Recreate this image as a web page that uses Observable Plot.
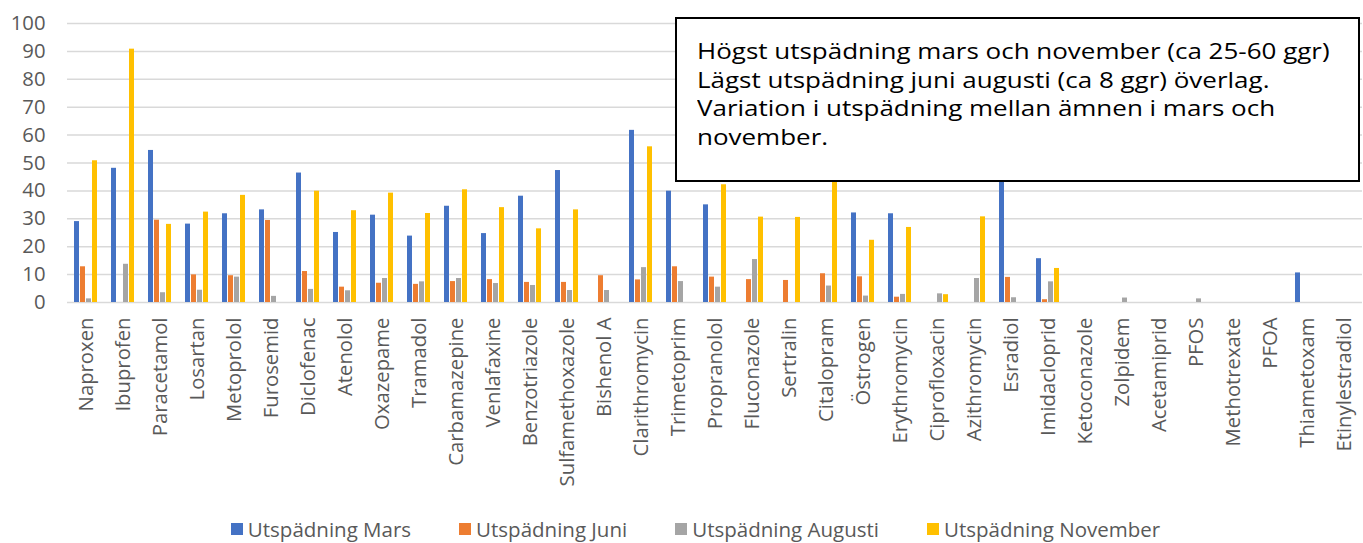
<!DOCTYPE html>
<html>
<head>
<meta charset="utf-8">
<script src="https://cdn.jsdelivr.net/npm/d3@7"></script>
<script src="https://cdn.jsdelivr.net/npm/@observablehq/plot@0.6"></script>
<style>
  body { margin: 0; background: #fff; font-family: "Open Sans", sans-serif; }
  #wrap { position: relative; width: 1363px; height: 543px; overflow: hidden; }
  #note {
    position: absolute; left: 675px; top: 17px; width: 681px; height: 161px;
    border: 2px solid #000; background: #fff; box-sizing: content-box;
    font-family: "Open Sans", sans-serif; font-size: 21px; line-height: 28.7px;
    color: #000; padding: 0;
  }
  #note .inner { position: absolute; left: 20px; top: 18px; white-space: nowrap; transform: scaleX(1.237); transform-origin: 0 0; }
  #legend {
    position: absolute; left: 0; top: 514px; width: 1363px; height: 30px;
    display: flex; justify-content: center; align-items: center; gap: 48px;
    padding-left: 28px; box-sizing: border-box;
    font-family: "Open Sans", sans-serif; font-size: 20.5px; color: #595959;
  }
  #legend .item { display: flex; align-items: center; gap: 5px; }
  #legend .sw { width: 12px; height: 12px; display: inline-block; }
</style>
</head>
<body>
<div id="wrap">
  <div id="chart"></div>
  <div id="note"><div class="inner" id="noteText"></div></div>
  <div id="legend"></div>
</div>
<script>
const categories = ["Naproxen","Ibuprofen","Paracetamol","Losartan","Metoprolol","Furosemid","Diclofenac","Atenolol","Oxazepame","Tramadol","Carbamazepine","Venlafaxine","Benzotriazole","Sulfamethoxazole","Bishenol A","Clarithromycin","Trimetoprim","Propranolol","Fluconazole","Sertralin","Citalopram","Östrogen","Erythromycin","Ciprofloxacin","Azithromycin","Esradiol","Imidacloprid","Ketoconazole","Zolpidem","Acetamiprid","PFOS","Methotrexate","PFOA","Thiametoxam","Etinylestradiol"];

const seriesNames = ["Utspädning Mars","Utspädning Juni","Utspädning Augusti","Utspädning November"];
const seriesColors = ["#4472C4","#ED7D31","#A5A5A5","#FFC000"];

const mars     = [29.0, 48.1, 54.5, 28.1, 31.8, 33.2, 46.4, 25.1, 31.3, 23.8, 34.5, 24.7, 38.1, 47.3, null, 61.7, 39.9, 35.0, null, null, null, 32.1, 31.8, null, null, 45.0, 15.7, null, null, null, null, null, null, 10.6, null];
const juni     = [12.8, null, 29.5, 9.9, 9.6, 29.4, 11.1, 5.5, 6.9, 6.5, 7.5, 8.2, 7.2, 7.2, 9.6, 8.1, 12.8, 9.1, 8.2, 7.9, 10.3, 9.2, 1.9, null, null, 9.0, 1.0, null, null, null, null, null, null, null, null];
const augusti  = [1.3, 13.7, 3.5, 4.4, 9.1, 2.2, 4.7, 4.2, 8.6, 7.4, 8.6, 6.8, 6.1, 4.3, 4.3, 12.5, 7.5, 5.5, 15.4, null, 5.9, 2.3, 2.9, 3.1, 8.6, 1.7, 7.4, null, 1.6, null, 1.3, null, null, null, null];
const november = [50.8, 90.8, 28.0, 32.4, 38.4, null, 39.9, 32.9, 39.2, 31.9, 40.4, 34.0, 26.4, 33.2, null, 55.8, null, 42.2, 30.6, 30.5, 45.0, 22.3, 26.9, 2.8, 30.7, null, 12.2, null, null, null, null, null, null, null, null];

const yTicks = [0,10,20,30,40,50,60,70,80,90,100];

const noteLines = [
  "Högst utspädning mars och november (ca 25-60 ggr)",
  "Lägst utspädning juni augusti (ca 8 ggr) överlag.",
  "Variation i utspädning mellan ämnen i mars och",
  "november."
];

const seriesValues = [mars, juni, augusti, november];
const data = [];
categories.forEach((c, i) => {
  seriesNames.forEach((s, j) => {
    data.push({cat: c, series: s, value: seriesValues[j][i]});
  });
});

const chart = Plot.plot({
  width: 1363,
  height: 505,
  marginLeft: 67,
  marginRight: 1,
  marginTop: 23,
  marginBottom: 203,
  style: {fontFamily: "Open Sans, sans-serif", fontSize: "20.3px", color: "#595959", background: "#fff"},
  facet: {data: data, x: "cat"},
  fx: {domain: categories, padding: 0, label: null, axis: "bottom", tickRotate: -90, tickSize: 0, tickPadding: 15},
  x: {domain: seriesNames, axis: null, paddingInner: 0.18, paddingOuter: 0.93},
  y: {domain: [0, 100], ticks: yTicks, label: null, tickSize: 0, tickPadding: 22},
  color: {domain: seriesNames, range: seriesColors},
  marks: [
    Plot.ruleY(yTicks, {stroke: "#d9d9d9", strokeWidth: 1.5, facet: false}),
    Plot.barY(data, {x: "series", y: "value", fill: "series"})
  ]
});
document.getElementById("chart").appendChild(chart);

document.getElementById("noteText").innerHTML = noteLines.map(l => `<div>${l}</div>`).join("");

const legend = document.getElementById("legend");
seriesNames.forEach((s, i) => {
  const item = document.createElement("div");
  item.className = "item";
  item.innerHTML = `<span class="sw" style="background:${seriesColors[i]}"></span><span>${s}</span>`;
  legend.appendChild(item);
});
</script>
</body>
</html>
